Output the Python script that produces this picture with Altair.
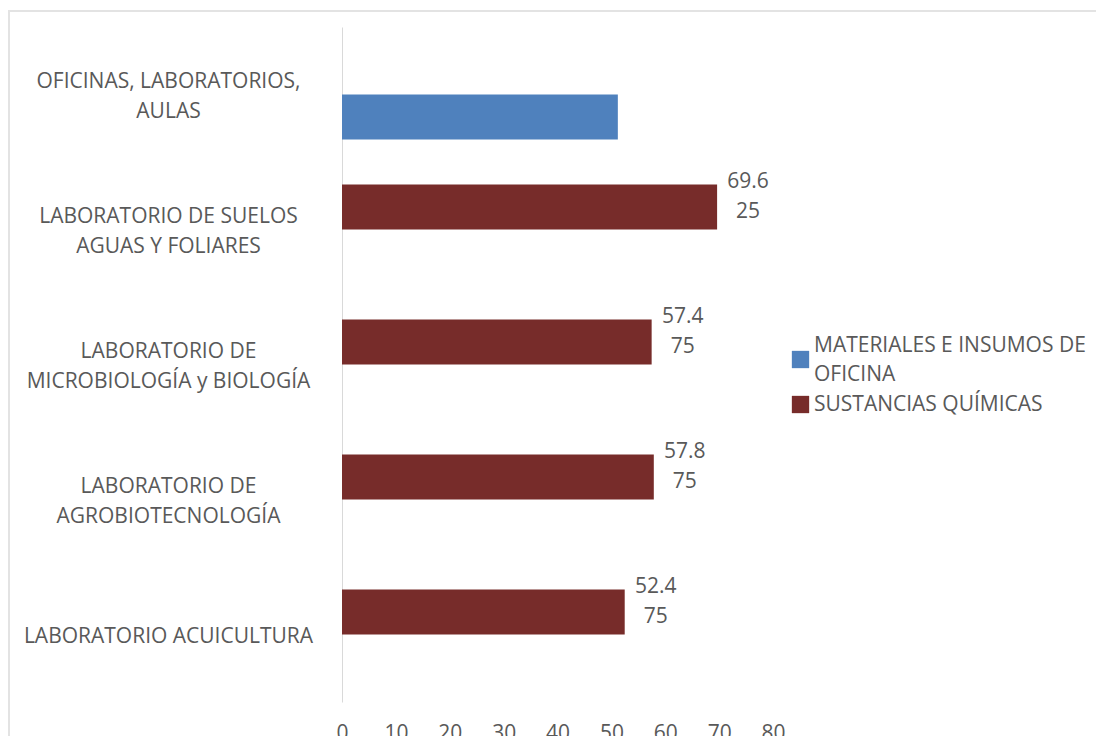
import altair as alt
import pandas as pd

categories = [
    "OFICINAS, LABORATORIOS, AULAS",
    "LABORATORIO DE SUELOS AGUAS Y FOLIARES",
    "LABORATORIO DE MICROBIOLOGÍA y BIOLOGÍA",
    "LABORATORIO DE AGROBIOTECNOLOGÍA",
    "LABORATORIO ACUICULTURA",
]
category_lines = [
    ["OFICINAS, LABORATORIOS,", "AULAS"],
    ["LABORATORIO DE SUELOS", "AGUAS Y FOLIARES"],
    ["LABORATORIO DE", "MICROBIOLOGÍA y BIOLOGÍA"],
    ["LABORATORIO DE", "AGROBIOTECNOLOGÍA"],
    ["LABORATORIO ACUICULTURA"],
]
series = [
    "MATERIALES E INSUMOS DE OFICINA",
    "SUSTANCIAS QUÍMICAS",
    "SUSTANCIAS QUÍMICAS",
    "SUSTANCIAS QUÍMICAS",
    "SUSTANCIAS QUÍMICAS",
]
values = [51.2, 69.625, 57.475, 57.875, 52.475]
value_labels = [None, ["69.6", "25"], ["57.4", "75"], ["57.8", "75"], ["52.4", "75"]]

series_names = ["MATERIALES E INSUMOS DE OFICINA", "SUSTANCIAS QUÍMICAS"]
series_colors = ["#4F81BD", "#772C2A"]

df = pd.DataFrame({
    "cat": categories,
    "series": series,
    "value": values,
    "vlabel": value_labels,
})

label_expr = " : ".join(
    [f"datum.label == '{c}' ? {l!r}" for c, l in zip(categories, category_lines)]
) + " : datum.label"

FONT = "Open Sans"
GREY = "#595959"
FS = 21

y_enc = alt.Y(
    "cat:N",
    sort=categories,
    title=None,
    scale=alt.Scale(paddingInner=1 / 3, paddingOuter=1 / 6),
    axis=alt.Axis(
        labelExpr=label_expr,
        labelAlign="center",
        labelBaseline="middle",
        labelPadding=174,
        labelLineHeight=30,
        labelOffset={"condition": {"test": "datum.value == 'LABORATORIO ACUICULTURA'", "value": 2}, "value": -13},
        labelFontSize=FS,
        labelFont=FONT,
        labelColor=GREY,
        labelLimit=400,
        ticks=False,
        domainColor="#D9D9D9",
        domainWidth=1,
        grid=False,
    ),
)
yoff = alt.YOffset(
    "series:N",
    sort=["SUSTANCIAS QUÍMICAS", "MATERIALES E INSUMOS DE OFICINA"],
    scale=alt.Scale(domain=["SUSTANCIAS QUÍMICAS", "MATERIALES E INSUMOS DE OFICINA"], paddingInner=0, paddingOuter=0),
)
x_enc = alt.X(
    "value:Q",
    title=None,
    scale=alt.Scale(domain=[0, 80], nice=False),
    axis=alt.Axis(
        values=[0, 10, 20, 30, 40, 50, 60, 70, 80],
        labelFontSize=FS,
        labelFont=FONT,
        labelColor=GREY,
        labelPadding=20,
        labelFlush=False,
        ticks=False,
        domain=False,
        grid=False,
    ),
)

bars = alt.Chart(df).mark_bar(size=45).encode(
    y=y_enc,
    yOffset=yoff,
    x=x_enc,
    color=alt.Color(
        "series:N",
        scale=alt.Scale(domain=series_names, range=series_colors),
        legend=alt.Legend(
            title=None,
            orient="none",
            legendX=448,
            legendY=322,
            symbolType="square",
            symbolSize=300,
            symbolStrokeWidth=0,
            labelFont=FONT,
            labelFontSize=FS,
            labelColor=GREY,
            labelLimit=400,
            labelOffset=3,
            labelExpr="datum.label == 'MATERIALES E INSUMOS DE OFICINA' ? ['MATERIALES E INSUMOS DE', 'OFICINA'] : datum.label",
            labelBaseline={"expr": "datum.value == 'MATERIALES E INSUMOS DE OFICINA' ? 'line-bottom' : 'middle'"},
            rowPadding=8,
        ),
    ),
)

texts = alt.Chart(df).transform_filter("datum.vlabel != null").mark_text(
    align="center",
    baseline="middle",
    dx=31,
    dy=-25,
    font=FONT,
    fontSize=FS,
    color=GREY,
    lineHeight=30,
).encode(
    y=y_enc,
    yOffset=yoff,
    x=x_enc,
    text="vlabel",
)

border = alt.Chart(pd.DataFrame({"a": [0]})).mark_rect(
    fill=None, stroke="#E3E3E3", strokeWidth=2
).encode(
    x=alt.value(-333),
    x2=alt.value(1400),
    y=alt.value(-16),
    y2=alt.value(1000),
)

chart = alt.layer(border, bars, texts).properties(
    width=431,
    height=675,
    padding={"left": 334, "top": 19, "right": 323, "bottom": 34},
    autosize=alt.AutoSizeParams(type="none"),
).configure(
    view=alt.ViewConfig(stroke="transparent"),
    style={"guide-label": {"lineHeight": 29}},
)

chart.save("out.html", embed_options={"renderer": "svg", "actions": False})
